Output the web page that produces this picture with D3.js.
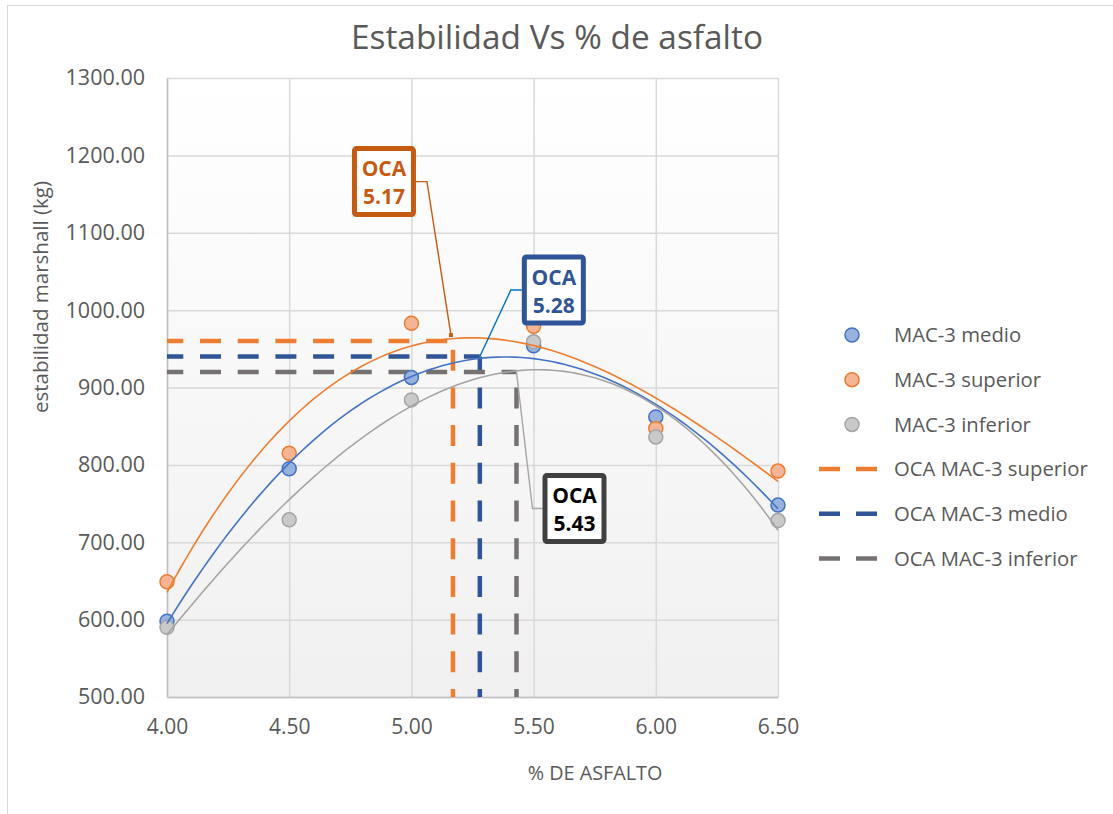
<!DOCTYPE html>
<html><head><meta charset="utf-8">
<script src="https://cdn.jsdelivr.net/npm/d3@7"></script>
<style>body{margin:0;background:#fff;} svg{display:block;font-family:"Open Sans",sans-serif;}</style>
</head><body><svg id="c" width="1113" height="814"></svg>
<script>
// ---------- data ----------
const xValues = [4.0, 4.5, 5.0, 5.5, 6.0, 6.5];
const medio    = [598, 795, 913, 954, 862, 748];
const superior = [649, 815, 983, 979, 847, 792];
const inferior = [590, 729, 884, 959, 836, 728];
const seriesNames = ["MAC-3 medio", "MAC-3 superior", "MAC-3 inferior"];
const ocaNames = ["OCA MAC-3 superior", "OCA MAC-3 medio", "OCA MAC-3 inferior"];
const ocaX = [5.17, 5.28, 5.43];          // superior, medio, inferior
const ocaY = [960, 940, 920];
const ocaLabels = ["5.17", "5.28", "5.43"];
const yTicks = [500, 600, 700, 800, 900, 1000, 1100, 1200, 1300];
const xTicks = [4.0, 4.5, 5.0, 5.5, 6.0, 6.5];

// ---------- styles / layout ----------
const W = 1113, H = 814;
const plot = {left: 167, right: 778, top: 78, bottom: 697};
const serStyle = [
  {fill: "#98B2DE", stroke: "#4472C4", line: "#4472C4"},
  {fill: "#F5B594", stroke: "#ED7D31", line: "#ED7D31"},
  {fill: "#C9C9C9", stroke: "#A5A5A5", line: "#A5A5A5"}
];
const ocaStyle = [
  {dash: "#ED7D31", box: "#C55A11", text: "#C55A11", leader: "#C55A11", bx: -101, by: -195, side: "right", elbow: 11},
  {dash: "#2F5597", box: "#2F5597", text: "#2F5597", leader: "#0070C0", bx: 42, by: -102, side: "left", elbow: -11},
  {dash: "#767171", box: "#404040", text: "#000000", leader: "#A5A5A5", bx: 26, by: 101, side: "left", elbow: -10}
];
const boxW = 64, boxH = 71;

const svg = d3.select("#c");
const x = d3.scaleLinear().domain([4, 6.5]).range([plot.left, plot.right]);
const y = d3.scaleLinear().domain([500, 1300]).range([plot.bottom, plot.top]);

// chart outer border
svg.append("rect").attr("x", 7.5).attr("y", 5.5).attr("width", W + 50).attr("height", H + 50)
  .attr("fill", "#fff").attr("stroke", "#D9D9D9").attr("stroke-width", 1);

// plot background gradient
const defs = svg.append("defs");
const grad = defs.append("linearGradient").attr("id", "bg").attr("x1", 0).attr("y1", 0).attr("x2", 0).attr("y2", 1);
grad.append("stop").attr("offset", "0%").attr("stop-color", "#FFFFFF");
grad.append("stop").attr("offset", "100%").attr("stop-color", "#F0F0F0");
svg.append("rect").attr("x", plot.left).attr("y", plot.top)
  .attr("width", plot.right - plot.left).attr("height", plot.bottom - plot.top).attr("fill", "url(#bg)");

// gridlines
const gy = svg.append("g").attr("transform", `translate(${plot.left},0)`)
  .call(d3.axisLeft(y).tickValues(yTicks).tickSize(-(plot.right - plot.left)).tickFormat(""));
gy.select(".domain").remove();
gy.selectAll("line").attr("stroke", "#D9D9D9").attr("stroke-width", 1.5);
const gx = svg.append("g").attr("transform", `translate(0,${plot.top})`)
  .call(d3.axisBottom(x).tickValues(xTicks).tickSize(plot.bottom - plot.top).tickFormat(""));
gx.select(".domain").remove();
gx.selectAll("line").attr("stroke", "#D9D9D9").attr("stroke-width", 1.5);

// axes
const ay = svg.append("g").attr("transform", `translate(${plot.left},0)`)
  .call(d3.axisLeft(y).tickValues(yTicks).tickSize(0).tickPadding(22).tickFormat(d3.format(".2f")));
ay.select(".domain").attr("stroke", "#BFBFBF").attr("stroke-width", 1.5);
ay.selectAll("text").attr("font-size", 21.5).attr("fill", "#595959").attr("font-family", "Open Sans");
const ax = svg.append("g").attr("transform", `translate(0,${plot.bottom})`)
  .call(d3.axisBottom(x).tickValues(xTicks).tickSize(0).tickPadding(22).tickFormat(d3.format(".2f")));
ax.select(".domain").attr("stroke", "#BFBFBF").attr("stroke-width", 1.5);
ax.selectAll("text").attr("font-size", 21).attr("fill", "#595959").attr("font-family", "Open Sans");

// titles
svg.append("text").attr("x", 557).attr("y", 49).attr("text-anchor", "middle")
  .attr("font-size", 33.4).attr("fill", "#595959").text("Estabilidad Vs % de asfalto");
svg.append("text").attr("x", 595).attr("y", 780).attr("text-anchor", "middle")
  .attr("font-size", 19.8).attr("fill", "#595959").text("% DE ASFALTO");
svg.append("text").attr("transform", "translate(48,297) rotate(-90)").attr("text-anchor", "middle")
  .attr("font-size", 20.5).attr("fill", "#595959").text("estabilidad marshall (kg)");

// OCA dashed lines
const dashArr = "21,16.7";
ocaX.forEach((ox, i) => {
  svg.append("line").attr("x1", x(4)).attr("x2", x(ox)).attr("y1", y(ocaY[i])).attr("y2", y(ocaY[i]))
    .attr("stroke", ocaStyle[i].dash).attr("stroke-width", 4.5).attr("stroke-dasharray", dashArr).attr("stroke-dashoffset", 4.7);
  svg.append("line").attr("x1", x(ox)).attr("x2", x(ox)).attr("y1", y(500)).attr("y2", y(ocaY[i]))
    .attr("stroke", ocaStyle[i].dash).attr("stroke-width", 4.5).attr("stroke-dasharray", dashArr).attr("stroke-dashoffset", 13);
});

// polynomial (order 3) trendline fit
function polyfit(xs, ys, deg) {
  const n = deg + 1, c = 5.25;
  const A = Array.from({length: n}, () => new Array(n + 1).fill(0));
  xs.forEach((xv, k) => {
    const t = xv - c;
    for (let i = 0; i < n; i++) {
      for (let j = 0; j < n; j++) A[i][j] += Math.pow(t, i + j);
      A[i][n] += ys[k] * Math.pow(t, i);
    }
  });
  for (let i = 0; i < n; i++) {
    let p = i;
    for (let r = i + 1; r < n; r++) if (Math.abs(A[r][i]) > Math.abs(A[p][i])) p = r;
    [A[i], A[p]] = [A[p], A[i]];
    for (let r = 0; r < n; r++) if (r !== i) {
      const f = A[r][i] / A[i][i];
      for (let cI = i; cI <= n; cI++) A[r][cI] -= f * A[i][cI];
    }
  }
  const coef = A.map((row, i) => row[n] / row[i]);
  return xv => coef.reduce((s, a, i) => s + a * Math.pow(xv - c, i), 0);
}

const allSeries = [medio, superior, inferior];
const gPts = svg.append("g");
allSeries.forEach((vals, si) => {
  gPts.selectAll(null).data(xValues.map((xv, k) => [xv, vals[k]])).enter().append("circle")
    .attr("cx", d => x(d[0])).attr("cy", d => y(d[1])).attr("r", 7)
    .attr("fill", serStyle[si].fill).attr("stroke", serStyle[si].stroke).attr("stroke-width", 1.5);
});
const lineGen = d3.line().x(d => x(d[0])).y(d => y(d[1]));
allSeries.forEach((vals, si) => {
  const f = polyfit(xValues, vals, 3);
  const pts = d3.range(0, 101).map(k => { const xv = 4 + 2.5 * k / 100; return [xv, f(xv)]; });
  svg.append("path").attr("d", lineGen(pts)).attr("fill", "none")
    .attr("stroke", serStyle[si].line).attr("stroke-width", 1.6);
});

// OCA callouts
ocaX.forEach((ox, i) => {
  const st = ocaStyle[i];
  const ax0 = x(ox), ay0 = y(ocaY[i]);
  const bx = ax0 + st.bx, by = ay0 + st.by;
  const ey = by + boxH / 2;
  const ex = st.side === "right" ? bx + boxW : bx;
  const anchorY = i === 0 ? ay0 - 6 : ay0;
  svg.append("path").attr("d", `M${ex},${ey} H${ex + st.elbow} L${ax0 - (i === 0 ? 2 : 0)},${anchorY}`)
    .attr("fill", "none").attr("stroke", st.leader).attr("stroke-width", 1.4);
  if (i === 0) svg.append("rect").attr("x", ax0 - 4).attr("y", anchorY - 2).attr("width", 4).attr("height", 4).attr("fill", st.leader);
  svg.append("rect").attr("x", bx + 2.5).attr("y", by + 2.5).attr("width", boxW - 5).attr("height", boxH - 5)
    .attr("rx", 2).attr("fill", "#fff").attr("stroke", st.box).attr("stroke-width", 5);
  svg.append("text").attr("x", bx + boxW / 2).attr("y", by + 30).attr("text-anchor", "middle")
    .attr("font-size", 21).attr("font-weight", "bold").attr("fill", st.text).text("OCA");
  svg.append("text").attr("x", bx + boxW / 2).attr("y", by + 58).attr("text-anchor", "middle")
    .attr("font-size", 21).attr("font-weight", "bold").attr("fill", st.text).text(ocaLabels[i]);
});

// legend
const legY0 = 335, legStep = 44.7;
const legend = svg.append("g");
seriesNames.forEach((nm, i) => {
  const ly = legY0 + i * legStep;
  legend.append("circle").attr("cx", 852).attr("cy", ly).attr("r", 7)
    .attr("fill", serStyle[i].fill).attr("stroke", serStyle[i].stroke).attr("stroke-width", 1.5);
  legend.append("text").attr("x", 894).attr("y", ly).attr("dy", "0.35em")
    .attr("font-size", 20.3).attr("fill", "#595959").text(nm);
});
ocaNames.forEach((nm, i) => {
  const ly = legY0 + (i + 3) * legStep;
  legend.append("line").attr("x1", 819).attr("x2", 877).attr("y1", ly).attr("y2", ly)
    .attr("stroke", ocaStyle[i].dash).attr("stroke-width", 4.5).attr("stroke-dasharray", "21,16");
  legend.append("text").attr("x", 894).attr("y", ly).attr("dy", "0.35em")
    .attr("font-size", 20.3).attr("fill", "#595959").text(nm);
});
</script></body></html>
